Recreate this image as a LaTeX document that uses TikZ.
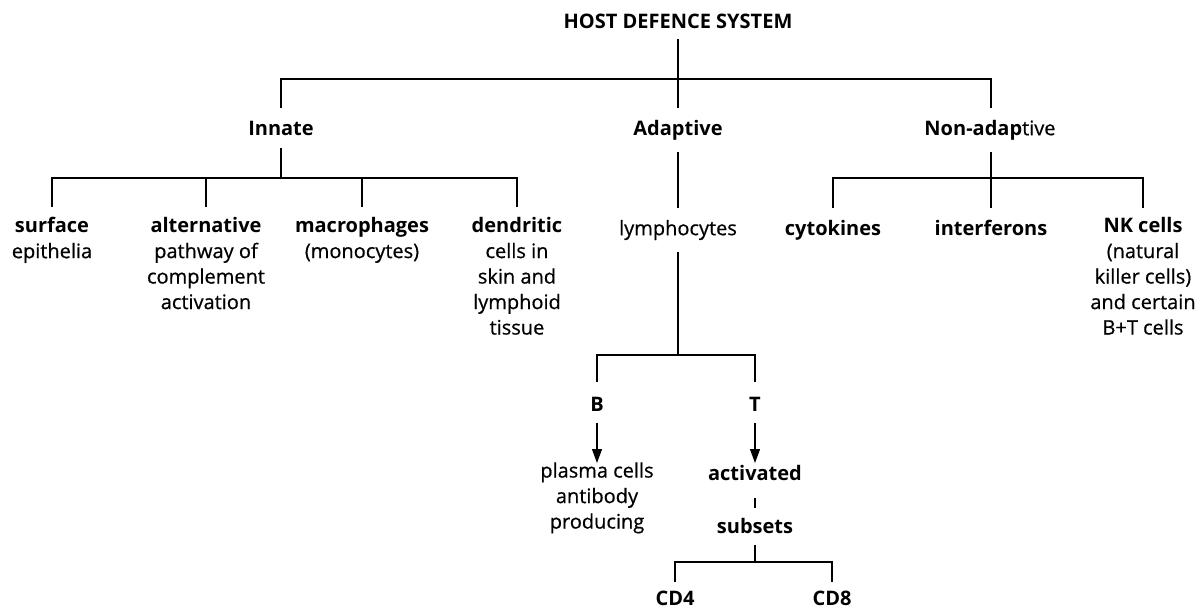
\documentclass[tikz,border=0pt]{standalone}
\usepackage{fontspec}
\setmainfont{Open Sans}[UprightFeatures={FakeBold=0.6}]
\usetikzlibrary{arrows.meta,calc}
\begin{document}
\begin{tikzpicture}[x=1pt,y=-1pt,
  lbl/.style={align=center,inner sep=0pt,anchor=north,font=\fontsize{20}{25.5}\selectfont,
    execute at begin node=\strut, execute at end node=\strut},
  conn/.style={line width=1.1pt},
  arr/.style={conn,-{Triangle[length=14pt,width=10pt]}}]
\useasboundingbox (0,0) rectangle (1196,608);
% level 0 and 1
\node[lbl] (t)  at (678,10.15)  {\bfseries HOST DEFENCE SYSTEM};
\node[lbl] (in) at (281,117.15) {\bfseries Innate};
\node[lbl] (ad) at (678,117.15) {\bfseries Adaptive};
\node[lbl] (na) at (990,117.15) {{\bfseries Non-adap}tive};
% level 2
\node[lbl] (s1) at (52,217.15)  {\bfseries surface\\epithelia};
\node[lbl] (s2) at (206,217.15) {\bfseries alternative\\pathway of\\complement\\activation};
\node[lbl] (s3) at (362,217.15) {\bfseries macrophages\\(monocytes)};
\node[lbl] (s4) at (517,217.15) {\bfseries dendritic\\cells in\\skin and\\lymphoid\\tissue};
\node[lbl] (ly) at (678,217.15) {lymphocytes};
\node[lbl] (cy) at (833,217.15) {\bfseries cytokines};
\node[lbl] (if) at (991,217.15) {\bfseries interferons};
\node[lbl] (nk) at (1143,217.15) {{\bfseries NK cells}\\(natural\\killer cells)\\and certain\\B+T cells};
% lymphocyte branch
\node[lbl] (b)  at (597,393.15) {\bfseries B};
\node[lbl] (tc) at (755,393.15) {\bfseries T};
\node[lbl] (pc) at (597,462.15) {plasma cells\\antibody\\producing};
\node[lbl] (ac) at (755,462.15) {\bfseries activated};
\node[lbl] (su) at (755,515.15) {\bfseries subsets};
\node[lbl] (c4) at (675,587.15) {\bfseries CD4};
\node[lbl] (c8) at (832,587.15) {\bfseries CD8};
% junction coordinates
\coordinate (topbar) at (678,79);
\coordinate (ibar) at (281,178);
\coordinate (nbar) at (991,178);
\coordinate (btbar) at (678,355);
\coordinate (cbar) at (755,562);
% connectors
\draw[conn] ($(t.south)+(0,3.35)$) -- ($(ad.north)+(0,-9.15)$);
\draw[conn] ($(in.north)+(0,-9.15)$) |- (topbar) -| ($(na.north)+(1,-9.15)$);
\draw[conn] ($(in.south)+(0,5.35)$) -- (ibar);
\draw[conn] ($(s1.north)+(0,-10.15)$) |- (ibar) -| ($(s4.north)+(0,-10.15)$);
\draw[conn] ($(s2.north)+(0,-10.15)$) -- (ibar -| s2.north);
\draw[conn] ($(s3.north)+(0,-10.15)$) -- (ibar -| s3.north);
\draw[conn] ($(ad.south)+(0,9.35)$) -- ($(ly.north)+(0,-9.15)$);
\draw[conn] (nbar |- {$(na.south)+(0,9.35)$}) -- (nbar);
\draw[conn] ($(cy.north)+(0,-9.15)$) |- (nbar) -| ($(nk.north)+(0,-9.15)$);
\draw[conn] ($(if.north)+(0,-9.15)$) -- (nbar);
\draw[line width=1.4pt] ($(ly.south)+(0,9.35)$) -- (btbar);
\draw[conn] ($(b.north)+(0,-11.15)$) |- (btbar) -| ($(tc.north)+(0,-11.15)$);
\draw[arr] ($(b.south)+(0,4.35)$) -- ($(pc.north)+(0,0.85)$);
\draw[arr] ($(tc.south)+(0,4.35)$) -- ($(ac.north)+(0,0.85)$);
\draw[conn] ($(ac.south)+(0,10.35)$) -- ($(su.north)+(0,-7.15)$);
\draw[conn] ($(su.south)+(0,4.35)$) -- (cbar);
\draw[conn] ($(c4.north)+(0,-5.15)$) |- (cbar) -| ($(c8.north)+(0,-5.15)$);
\end{tikzpicture}
\end{document}
